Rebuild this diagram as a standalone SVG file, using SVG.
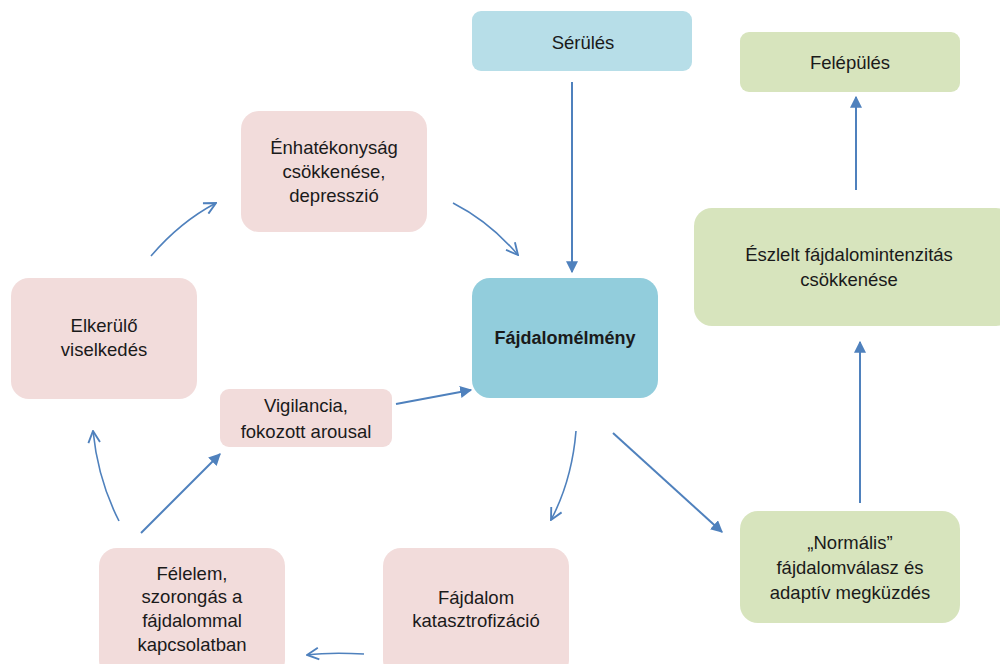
<svg xmlns="http://www.w3.org/2000/svg" width="1000" height="664" viewBox="0 0 1000 664">
<defs>
<style>
.pink{fill:#F2DCDB}
.lb{fill:#B7DEE8}
.mb{fill:#92CDDC}
.gr{fill:#D7E4BD}
text{font-family:"Liberation Sans","DejaVu Sans",sans-serif;font-size:18.5px;fill:#1a1a1a;text-anchor:middle}
.b{font-weight:bold;font-size:18px}
.s{fill:none;stroke:#4F81BD;stroke-width:2}
.c{fill:none;stroke:#4F81BD;stroke-width:1.6}
</style>
<marker id="fa2" viewBox="0 0 10 10" refX="9" refY="5" markerWidth="12" markerHeight="12" markerUnits="userSpaceOnUse" orient="auto">
<path d="M0,0 L10,5 L0,10 z" fill="#4F81BD"/>
</marker>
<marker id="oa" viewBox="0 0 12 12" refX="11" refY="6" markerWidth="14" markerHeight="14" markerUnits="userSpaceOnUse" orient="auto">
<path d="M1,1 L11,6 L1,11" fill="none" stroke="#4F81BD" stroke-width="1.6"/>
</marker>
</defs>

<g id="connectors">
<line class="s" x1="572" y1="82" x2="572" y2="272" marker-end="url(#fa2)"/>
<line class="s" x1="856" y1="190" x2="856" y2="97" marker-end="url(#fa2)"/>
<line class="s" x1="860" y1="503" x2="860" y2="342" marker-end="url(#fa2)"/>
<line class="s" x1="141" y1="533" x2="220" y2="454" marker-end="url(#fa2)"/>
<line class="s" x1="396" y1="404" x2="471" y2="390" marker-end="url(#fa2)"/>
<line class="s" x1="613" y1="433" x2="722" y2="532" marker-end="url(#fa2)"/>
<path class="c" d="M453,203 Q490,222 518,255" marker-end="url(#oa)"/>
<path class="c" d="M151,256 Q180,222 216,203" marker-end="url(#oa)"/>
<path class="c" d="M119,521 Q98,480 93,431" marker-end="url(#oa)"/>
<path class="c" d="M576,431 Q572,480 551,520" marker-end="url(#oa)"/>
<path class="c" d="M364,654 Q330,652 307,655" marker-end="url(#oa)"/>
</g>

<g id="serules"><rect class="lb" x="472" y="11" width="220" height="60" rx="9"/><text x="583" y="49">Sérülés</text></g>
<g id="felepules"><rect class="gr" x="740" y="32" width="220" height="60" rx="9"/><text x="850" y="69">Felépülés</text></g>
<g id="enhatekonysag"><rect class="pink" x="241" y="111" width="186" height="121" rx="18"/>
<text x="334" y="154">Énhatékonyság</text><text x="334" y="178">csökkenése,</text><text x="334" y="202">depresszió</text></g>
<g id="fajdalomelmeny"><rect class="mb" x="472" y="278" width="186" height="120" rx="18"/><text class="b" x="565" y="344">Fájdalomélmény</text></g>
<g id="eszlelt"><rect class="gr" x="694" y="208" width="320" height="118" rx="18"/>
<text x="849" y="261">Észlelt fájdalomintenzitás</text><text x="849" y="286">csökkenése</text></g>
<g id="elkerulo"><rect class="pink" x="11" y="278" width="186" height="121" rx="18"/>
<text x="104" y="332">Elkerülő</text><text x="104" y="356">viselkedés</text></g>
<g id="vigilancia"><rect class="pink" x="220" y="389" width="172" height="58" rx="9"/>
<text x="306" y="412">Vigilancia,</text><text x="306" y="438">fokozott arousal</text></g>
<g id="felelem"><rect class="pink" x="99" y="548" width="186" height="130" rx="18"/>
<text x="192" y="580">Félelem,</text><text x="192" y="603">szorongás a</text><text x="192" y="627">fájdalommal</text><text x="192" y="651">kapcsolatban</text></g>
<g id="katasztrofizacio"><rect class="pink" x="383" y="548" width="186" height="130" rx="18"/>
<text x="476" y="604">Fájdalom</text><text x="476" y="627">katasztrofizáció</text></g>
<g id="normalis"><rect class="gr" x="740" y="511" width="220" height="112" rx="18"/>
<text x="850" y="549">„Normális”</text><text x="850" y="574">fájdalomválasz és</text><text x="850" y="599">adaptív megküzdés</text></g>
</svg>
